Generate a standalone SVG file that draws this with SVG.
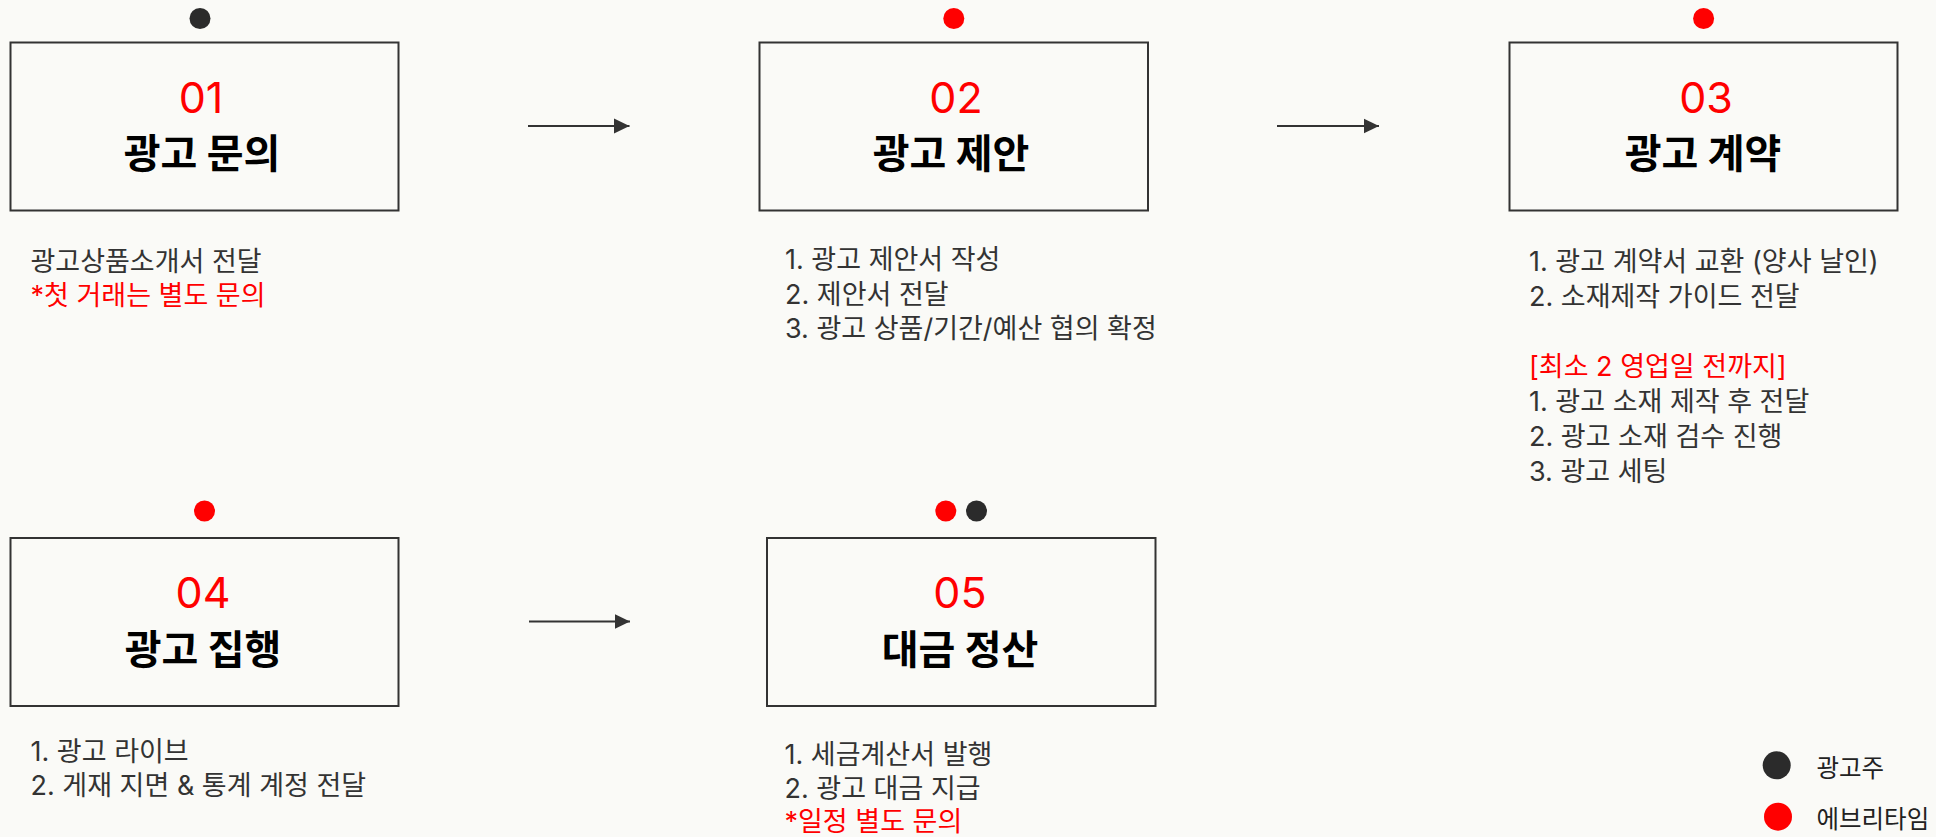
<svg xmlns="http://www.w3.org/2000/svg" width="1936" height="837" viewBox="0 0 1936 837">
  <defs>
    <style>
      .bg { fill: #fafaf7; }
      .box { fill: none; stroke: #333333; stroke-width: 2; }
      .num { font-family: "Inter", "Noto Sans CJK KR", sans-serif; font-size: 43px; fill: #ff0000; text-anchor: middle; }
      .title { font-family: "Inter", "Noto Sans CJK KR", sans-serif; font-size: 40px; font-weight: 700; fill: #000000; text-anchor: middle; }
      .desc { font-family: "Inter", "Noto Sans CJK KR", sans-serif; font-size: 27px; fill: #333333; }
      .red { fill: #ff0000; }
      .dot-a { fill: #2b2b2b; }
      .dot-e { fill: #ff0000; }
      .conn { stroke: #333333; stroke-width: 2; fill: none; }
      .leg { font-family: "Inter", "Noto Sans CJK KR", sans-serif; font-size: 24.5px; fill: #222222; }
    </style>
    <marker id="arrow" markerUnits="userSpaceOnUse" markerWidth="16" markerHeight="16" viewBox="0 0 16 16" refX="15.5" refY="8" orient="auto">
      <path d="M0,0.5 L15.5,8 L0,15.5 Z" fill="#333333"/>
    </marker>
  </defs>
  <rect class="bg" x="0" y="0" width="1936" height="837"/>

  <g id="connectors">
    <line class="conn" x1="528" y1="126" x2="629.5" y2="126" marker-end="url(#arrow)"/>
    <line class="conn" x1="1277" y1="126" x2="1379" y2="126" marker-end="url(#arrow)"/>
    <line class="conn" x1="529" y1="621.5" x2="630" y2="621.5" marker-end="url(#arrow)"/>
  </g>

  <g id="node-01">
    <circle class="dot-a" cx="200" cy="18.5" r="10.5"/>
    <rect class="box" x="10.5" y="42.5" width="388" height="168"/>
    <text class="num" x="201" y="112.5">01</text>
    <text class="title" x="202" y="168">광고 문의</text>
    <text class="desc" x="30.5" y="271">광고상품소개서 전달</text>
    <text class="desc red" x="30.5" y="305">*첫 거래는 별도 문의</text>
  </g>

  <g id="node-02">
    <circle class="dot-e" cx="953.8" cy="18.5" r="10.5"/>
    <rect class="box" x="759.5" y="42.5" width="388.5" height="168"/>
    <text class="num" x="956" y="112.5">02</text>
    <text class="title" x="951" y="168">광고 제안</text>
    <text class="desc" x="785" y="269">1. 광고 제안서 작성</text>
    <text class="desc" x="785" y="303.5">2. 제안서 전달</text>
    <text class="desc" x="785" y="338">3. 광고 상품/기간/예산 협의 확정</text>
  </g>

  <g id="node-03">
    <circle class="dot-e" cx="1703.6" cy="18.5" r="10.5"/>
    <rect class="box" x="1509.5" y="42.5" width="388" height="168"/>
    <text class="num" x="1706" y="112.5">03</text>
    <text class="title" x="1703" y="168">광고 계약</text>
    <text class="desc" x="1529" y="271">1. 광고 계약서 교환 (양사 날인)</text>
    <text class="desc" x="1529" y="306">2. 소재제작 가이드 전달</text>
    <text class="desc red" x="1529" y="376">[최소 2 영업일 전까지]</text>
    <text class="desc" x="1529" y="411">1. 광고 소재 제작 후 전달</text>
    <text class="desc" x="1529" y="446">2. 광고 소재 검수 진행</text>
    <text class="desc" x="1529" y="481">3. 광고 세팅</text>
  </g>

  <g id="node-04">
    <circle class="dot-e" cx="204.5" cy="511" r="10.5"/>
    <rect class="box" x="10.5" y="538" width="388" height="168"/>
    <text class="num" x="203" y="608">04</text>
    <text class="title" x="203" y="663.5">광고 집행</text>
    <text class="desc" x="30.5" y="761">1. 광고 라이브</text>
    <text class="desc" x="30.5" y="795">2. 게재 지면 &amp; 통계 계정 전달</text>
  </g>

  <g id="node-05">
    <circle class="dot-e" cx="945.8" cy="511" r="10.5"/>
    <circle class="dot-a" cx="976.5" cy="511" r="10.5"/>
    <rect class="box" x="767" y="538" width="388.5" height="168"/>
    <text class="num" x="960" y="608">05</text>
    <text class="title" x="960" y="663.5">대금 정산</text>
    <text class="desc" x="784.5" y="763.5">1. 세금계산서 발행</text>
    <text class="desc" x="784.5" y="797.5">2. 광고 대금 지급</text>
    <text class="desc red" x="784.5" y="831">*일정 별도 문의</text>
  </g>

  <g id="legend">
    <circle class="dot-a" cx="1776.7" cy="765.3" r="14"/>
    <text class="leg" x="1816.5" y="777">광고주</text>
    <circle class="dot-e" cx="1778" cy="816.7" r="14"/>
    <text class="leg red" x="1816.5" y="828">에브리타임</text>
  </g>
</svg>
